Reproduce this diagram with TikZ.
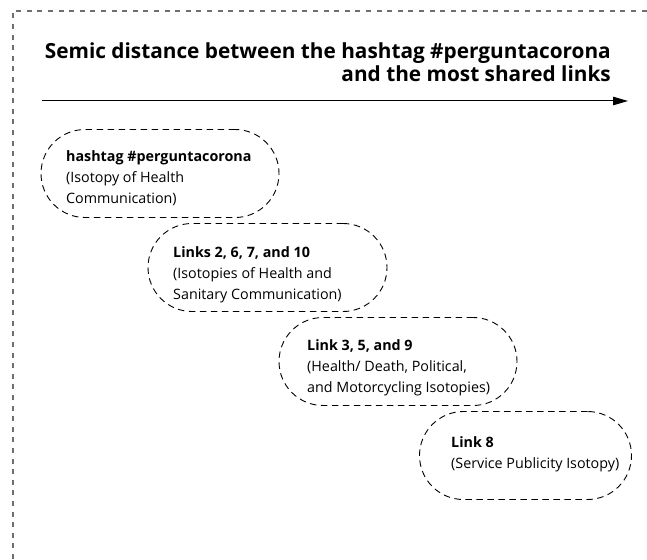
\documentclass[tikz,border=0pt]{standalone}
\usepackage{fontspec}
\setmainfont{Open Sans}
\usetikzlibrary{arrows.meta}
\definecolor{framegray}{HTML}{6F6F6F}
\begin{document}
\begin{tikzpicture}[x=1pt,y=-1pt,
  frameline/.style={draw=framegray,line width=1.6pt,dash pattern=on 5pt off 5.6pt},
  titletext/.style={anchor=base east,inner sep=0pt,font=\bfseries\fontsize{20.8}{24}\selectfont},
  capsule/.style={draw,line width=0.9pt,dash pattern=on 6.5pt off 4.5pt,
    minimum width=#1,minimum height=88pt,rounded corners=44pt,inner sep=0pt},
  capsuletext/.style={anchor=west,align=left,inner sep=0pt,
    font=\fontsize{14.3}{21}\selectfont},
  timeline/.style={line width=1pt,-{Triangle[length=15pt,width=8.5pt]}}]
  \useasboundingbox (0,0) rectangle (647,559);

  % dashed frame along the top and left sides
  \coordinate (fbl) at (13,559);
  \coordinate (ftl) at (13,11);
  \coordinate (ftr) at (647,11);
  \draw[frameline] (fbl) -- (ftl) -- (ftr);

  % heading
  \node[titletext] (title1) at (611,59) {Semic distance between the hashtag \#perguntacorona};
  \node[titletext] (title2) at (611,82) {and the most shared links};

  % axis
  \coordinate (axstart) at (42,101);
  \coordinate (axend) at (628,101);
  \draw[timeline] (axstart) -- (axend);

  % capsules
  \node[capsule=238pt] (c1) at (160,173.5) {};
  \node[capsule=239pt] (c2) at (267.5,267.5) {};
  \node[capsule=238pt] (c3) at (398,361.5) {};
  \node[capsule=212pt] (c4) at (525.5,455.5) {};

  \node[capsuletext] (t1) at (66,178) {\textbf{hashtag \#perguntacorona}\\(Isotopy of Health\\Communication)};
  \node[capsuletext] (t2) at (173,275) {\textbf{Links 2, 6, 7, and 10}\\(Isotopies of Health and\\Sanitary Communication)};
  \node[capsuletext] (t3) at (307,368) {\textbf{Link 3, 5, and 9}\\(Health/ Death, Political,\\and Motorcycling Isotopies)};
  \node[capsuletext] (t4) at (451,454.5) {\textbf{Link 8}\\(Service Publicity Isotopy)};
\end{tikzpicture}
\end{document}
